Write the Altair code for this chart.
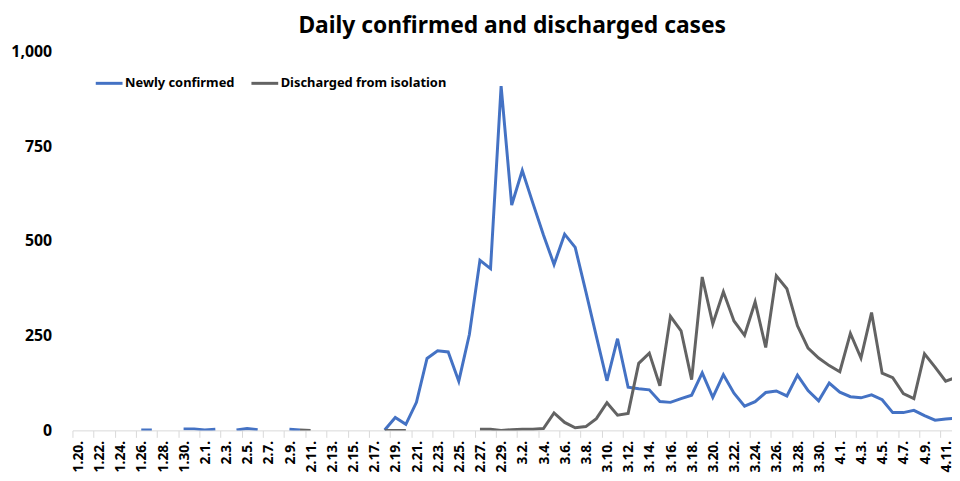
import json
import altair as alt
import pandas as pd

# ---- data ----
dates = (
    [f"1.{d}." for d in range(20, 32)]
    + [f"2.{d}." for d in range(1, 30)]
    + [f"3.{d}." for d in range(1, 32)]
    + [f"4.{d}." for d in range(1, 13)]
)

N = None
newly_confirmed = [
    N, N, N, N, N, N, 1, 1, N, N,          # 1.20 - 1.29
    4, 4, 1, 3, N, 1, 5, 2, N, N,          # 1.30 - 2.8
    3, 1, N, N, N, N, N, N, N, 1,          # 2.9 - 2.18
    34, 16, 74, 190, 210, 207, 130, 253, 449, 427,   # 2.19 - 2.28
    909, 595, 686, 600, 516, 438, 518, 483, 367, 248,  # 2.29 - 3.9
    131, 242, 114, 110, 107, 76, 74, 84, 93, 152,      # 3.10 - 3.19
    87, 147, 98, 64, 76, 100, 104, 91, 146, 105,       # 3.20 - 3.29
    78, 125, 101, 89, 86, 94, 81, 47, 47, 53,          # 3.30 - 4.8
    39, 27, 30, 32,                                    # 4.9 - 4.12
]
discharged = [
    N, N, N, N, N, N, N, N, N, N,
    N, N, N, N, N, N, N, N, N, N,
    N, 1, 0, N, N, N, N, N, N, 0,
    0, 0, N, N, N, N, N, N, 3, 3,
    0, 2, 3, 3, 5, 46, 21, 7, 10, 31,
    73, 40, 45, 177, 204, 118, 301, 263, 134, 405,
    281, 366, 289, 251, 339, 219, 408, 374, 276, 217,
    191, 171, 155, 256, 191, 311, 151, 139, 97, 84,
    202, 167, 130, 140,
]
series_names = ["Newly confirmed", "Discharged from isolation"]
series_colors = ["#4472C4", "#636363"]

rows = []
for name, vals in zip(series_names, [newly_confirmed, discharged]):
    seg = 0
    prev_null = True
    for i, v in enumerate(vals):
        if v is None:
            prev_null = True
            continue
        if prev_null:
            seg += 1
        prev_null = False
        rows.append({"day": i, "value": v, "series": name, "seg": f"{name}-{seg}"})
df = pd.DataFrame(rows)

label_js = json.dumps(dates)
tick_values = [-0.5 + 2 * k for k in range(42)]

chart = (
    alt.Chart(df)
    .mark_line(strokeWidth=3, clip=True)
    .encode(
        x=alt.X(
            "day:Q",
            scale=alt.Scale(domain=[-0.5, 82.6], nice=False, zero=False),
            axis=alt.Axis(
                values=tick_values,
                labelExpr=f"{label_js}[round(datum.value + 0.5)] || ''",
                labelAngle=270,
                labelOffset=6,
                labelFlush=False,
                labelOverlap=False,
                labelBound=False,
                labelFontSize=14,
                labelFontWeight="bold",
                labelColor="#000000",
                labelPadding=3,
                tickSize=7,
                tickColor="#D9D9D9",
                domainColor="#D9D9D9",
                grid=False,
                title=None,
            ),
        ),
        y=alt.Y(
            "value:Q",
            scale=alt.Scale(domain=[0, 1000], nice=False),
            axis=alt.Axis(
                values=[0, 250, 500, 750, 1000],
                format=",.0f",
                labelFontSize=16,
                labelFontWeight="bold",
                labelColor="#000000",
                labelPadding=21,
                ticks=False,
                domain=False,
                grid=False,
                title=None,
            ),
        ),
        color=alt.Color(
            "series:N",
            scale=alt.Scale(domain=series_names, range=series_colors),
            legend=alt.Legend(
                title=None,
                orient="none",
                legendX=22,
                legendY=17,
                direction="horizontal",
                symbolType="stroke",
                symbolSize=729,
                symbolStrokeWidth=3,
                labelFontSize=13,
                labelFontWeight="bold",
                labelColor="#000000",
                labelLimit=0,
                labelOffset=1,
                columnPadding=10,
                padding=0,
            ),
        ),
        detail="seg:N",
        order=alt.Order("day:Q"),
    )
    .properties(
        width=887,
        height=382,
        padding={"left": 65, "top": 42, "right": 0, "bottom": 41},
        autosize=alt.AutoSizeParams(type="none"),
        title=alt.TitleParams(
            "Daily confirmed and discharged cases",
            fontSize=23,
            fontWeight="bold",
            color="#000000",
            anchor="middle",
            frame="group",
            offset=6,
        ),
    )
    .configure(font="Noto Sans")
    .configure_view(stroke=None)
)

chart.save("out.html", embed_options={"renderer": "svg", "actions": False})
